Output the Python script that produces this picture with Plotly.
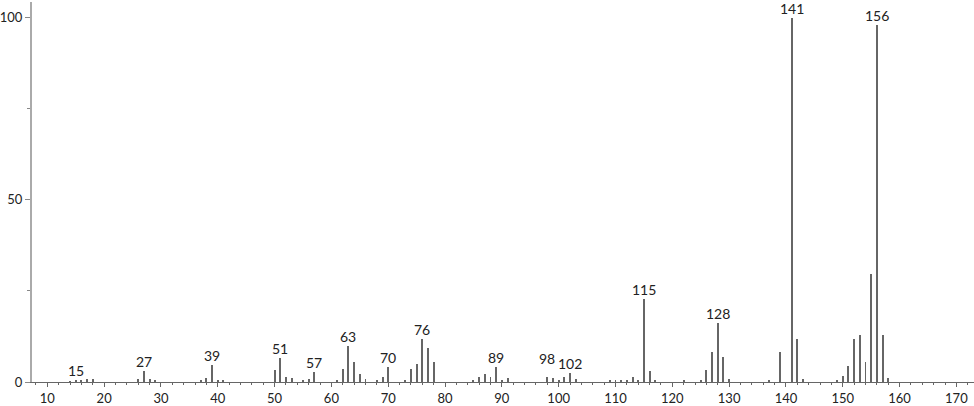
import plotly.graph_objects as go

# m/z values and relative intensities (%)
mz = [14, 15, 16, 17, 18, 26, 27, 28, 29, 37, 38, 39, 40, 41,
      50, 51, 52, 53, 55, 56, 57, 61, 62, 63, 64, 65, 66, 68, 69, 70,
      73, 74, 75, 76, 77, 78, 85, 86, 87, 88, 89, 90, 91,
      98, 99, 100, 101, 102, 103, 109, 110, 111, 112, 113, 114, 115, 116, 117,
      122, 125, 126, 127, 128, 129, 130, 137, 139, 141, 142, 143,
      149, 150, 151, 152, 153, 154, 155, 156, 157, 158]
intensity = [0.2, 0.6, 0.3, 0.7, 0.7, 0.8, 3.1, 0.7, 0.4, 0.4, 1.2, 4.8, 0.5, 0.4,
             3.4, 6.7, 1.3, 1.1, 0.5, 0.7, 2.7, 0.5, 3.5, 9.9, 5.5, 2.2, 0.7, 0.5, 1.5, 4.0,
             0.5, 3.5, 5.0, 11.7, 9.3, 5.6, 0.6, 1.5, 2.2, 1.3, 4.0, 0.6, 1.1,
             1.3, 1.1, 0.5, 1.3, 2.6, 0.7, 0.4, 0.4, 0.5, 0.6, 1.5, 0.6, 22.9, 3.0, 0.6,
             0.6, 0.6, 3.2, 8.3, 16.1, 6.8, 0.8, 0.6, 8.3, 100, 11.8, 0.8,
             0.4, 1.6, 4.4, 11.9, 12.8, 5.6, 29.6, 98.1, 12.9, 1.2]

labelled = [15, 27, 39, 51, 57, 63, 70, 76, 89, 98, 102, 115, 128, 141, 156]

x_ticks = list(range(10, 171, 10))
y_ticks = [0, 50, 100]

font = 'Lato, "Open Sans", sans-serif'

fig = go.Figure()
fig.add_trace(go.Bar(x=mz, y=intensity, width=0.17,
                     marker=dict(color='#666666', line=dict(width=0)),
                     showlegend=False, hoverinfo='x+y'))

peak = dict(zip(mz, intensity))
for m in labelled:
    shift = 8 if m == 98 else -1
    fig.add_annotation(x=m, y=peak[m], text=str(m), showarrow=False,
                       xanchor='center', yanchor='bottom', yshift=shift,
                       font=dict(family=font, size=14, color='#222222'))

fig.update_layout(
    width=974, height=406,
    margin=dict(l=29, r=0, t=2, b=22),
    plot_bgcolor='white', paper_bgcolor='white',
    bargap=0,
    xaxis=dict(range=[7.3, 173.1], tickvals=x_ticks, ticks='outside', ticklen=4,
               tickcolor='#666666', showline=True, linecolor='#666666', linewidth=1,
               showgrid=False, zeroline=False,
               minor=dict(dtick=2, tick0=0, ticks='outside', ticklen=2, tickcolor='#666666'),
               tickfont=dict(family=font, size=13, color='#222222')),
    yaxis=dict(range=[0, 104.3], tickvals=y_ticks, ticks='outside', ticklen=5,
               tickcolor='#888888', showline=True, linecolor='#aaaaaa', linewidth=2,
               showgrid=False, zeroline=False,
               minor=dict(tickvals=[25, 75], ticks='outside', ticklen=3, tickcolor='#888888'),
               tickfont=dict(family=font, size=13, color='#222222')),
)

# drop the default 8px page margin so the figure fills the window exactly
fig.write_html("out.html", config={'displayModeBar': False},
               post_script="document.body.style.margin='0';")
